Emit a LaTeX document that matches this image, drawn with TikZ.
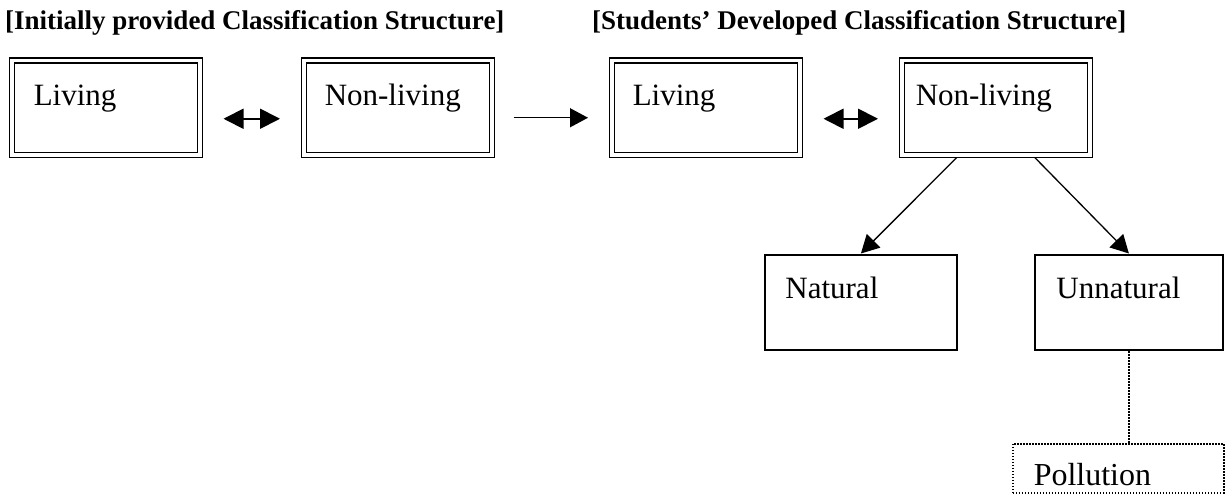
\documentclass[tikz,border=0pt]{standalone}
\usepackage{fontspec}
\setmainfont{Liberation Serif}
\usetikzlibrary{arrows.meta,calc}
\begin{document}
\begin{tikzpicture}[x=1pt,y=-1pt,
  dbox/.style={draw, double, double distance=3.5pt, line width=1.5pt, rectangle, anchor=north west,
    minimum width=188pt, minimum height=94pt, align=left, inner ysep=21pt,
    text height=24pt, text depth=28pt, font=\fontsize{31}{37}\selectfont},
  sbox/.style={draw, line width=2.8pt, rectangle, anchor=north west,
    minimum height=95pt, align=left, inner ysep=20pt,
    text height=23.5pt, text depth=31.5pt, font=\fontsize{31}{37}\selectfont},
  pbox/.style={draw, line width=1.5pt, dash pattern=on 1.5pt off 1.5pt, rectangle, anchor=north west,
    minimum height=49pt, align=left, inner ysep=4pt,
    text height=38pt, text depth=3pt, font=\fontsize{32}{38}\selectfont},
  head/.style={anchor=base west, inner sep=0pt, font=\bfseries\fontsize{27}{32}\selectfont},
  dblarr/.style={line width=1.8pt, {Triangle[length=20pt,width=20pt]}-{Triangle[length=20pt,width=20pt]}},
  arr/.style={line width=1.3pt, -{Triangle[length=18pt,width=19pt]}},
  dotline/.style={line width=1.5pt, dash pattern=on 1.5pt off 1.5pt}
]
\useasboundingbox (0,0) rectangle (1225,503);

\node[head] (h1) at (5,30) {[Initially provided Classification Structure]};
\node[head] (h2) at (592,30) {[Students’ Developed Classification Structure]};

\node[dbox, inner xsep=22pt, text width=144pt] (b1) at (11,60) {Living};
\node[dbox, inner xsep=21pt, text width=146pt] (b2) at (303,60) {Non-living};
\node[dbox, inner xsep=21pt, text width=146pt] (b3) at (611,60) {Living};
\node[dbox, inner xsep=14pt, text width=160pt] (b4) at (901,60) {Non-living};

\node[sbox, minimum width=192pt, inner xsep=20.5pt, text width=151pt] (nat) at (763.5,253.5) {Natural};
\node[sbox, minimum width=188pt, inner xsep=21.5pt, text width=145pt] (unn) at (1033.5,253.5) {Unnatural};
\node[pbox, minimum width=211pt, inner xsep=21pt, text width=169pt] (poll) at (1012,443) {Pollution};

\draw[dblarr, shorten <=23pt, shorten >=23pt] ([yshift=-11pt]b1.east) -- ([yshift=-11pt]b2.west);
\draw[arr, shorten <=21pt, shorten >=23pt] ([yshift=-10pt]b2.east) -- ([yshift=-10pt]b3.west);
\draw[dblarr, shorten <=23pt, shorten >=23pt] ([yshift=-11pt]b3.east) -- ([yshift=-11pt]b4.west);

\draw[arr] ([xshift=-39pt,yshift=-2pt]b4.south) -- (nat.north);
\draw[arr] ([xshift=39pt,yshift=-2pt]b4.south) -- (unn.north);
\draw[dotline] (unn.south) -- (unn.south |- poll.north);
\end{tikzpicture}
\end{document}
